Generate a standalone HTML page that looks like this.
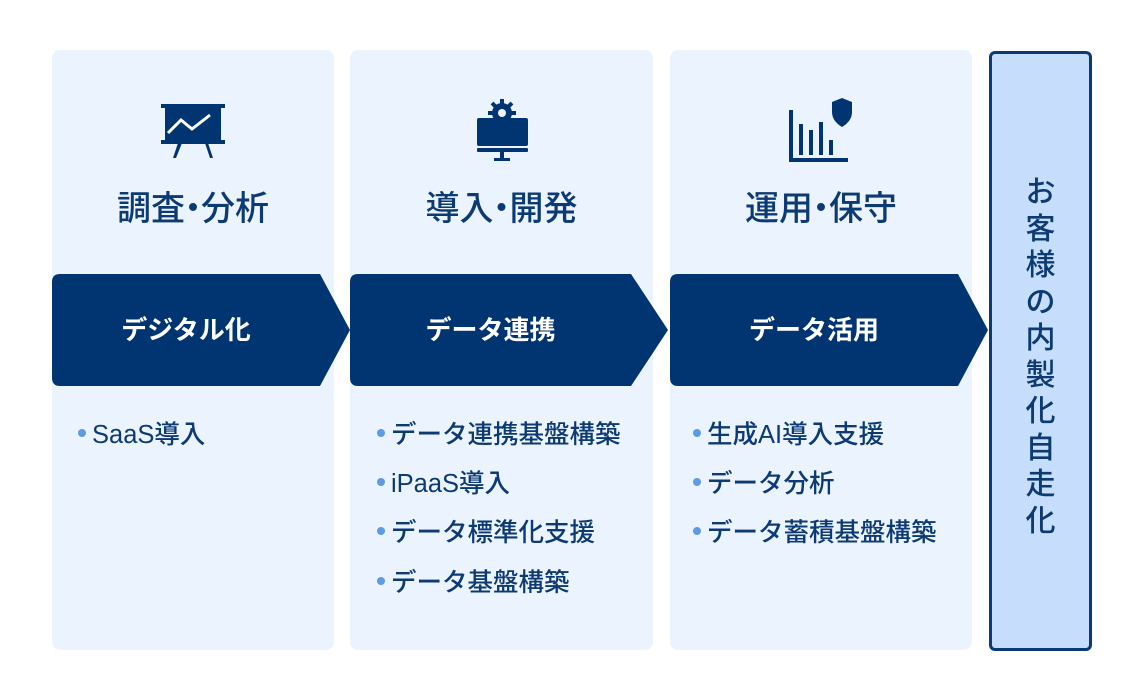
<!DOCTYPE html>
<html><head><meta charset="utf-8"><style>
body{margin:0;width:1146px;height:700px;background:#fff;position:relative;overflow:hidden;font-family:"Liberation Sans","Noto Sans CJK JP",sans-serif;}
.card{position:absolute;top:50px;height:600px;background:#eaf3fe;border-radius:8px;}
.title{position:absolute;top:186px;font-size:34px;font-weight:500;color:#0c3a73;text-align:center;line-height:46px;white-space:nowrap}
.title span{letter-spacing:-9px;margin-left:-9px}
.ban{position:absolute;top:330px;font-size:26px;font-weight:700;color:#fff;text-align:center;line-height:1;transform:translateY(-50%)}
.li{position:absolute;font-size:25.5px;font-weight:500;color:#0c3a73;line-height:30px;white-space:nowrap}
.li::before{content:"";display:inline-block;width:8px;height:8px;border-radius:50%;background:#5d9be3;margin-right:6px;vertical-align:middle;position:relative;top:-3px}
.right{position:absolute;left:989px;top:51px;width:97px;height:594px;background:#c6defb;border:3px solid #0c3a73;border-radius:6px}
.vt{position:absolute;left:0;width:97px;top:121px;text-align:center;font-size:30px;color:#0c3a73;line-height:36.5px;font-weight:500}
</style></head><body>
<div class="card" style="left:52px;width:282px"></div>
<div class="card" style="left:350px;width:303px"></div>
<div class="card" style="left:670px;width:302px"></div>
<svg style="position:absolute;left:0;top:0" width="1146" height="700">
<g fill="#003572">
<path d="M52 282 Q52 274 60 274 L320 274 L350 330 L320 386 L60 386 Q52 386 52 378Z"/>
<path d="M350 282 Q350 274 358 274 L631 274 L668 330 L631 386 L358 386 Q350 386 350 378Z"/>
<path d="M670 282 Q670 274 678 274 L958 274 L988 330 L958 386 L678 386 Q670 386 670 378Z"/>
<rect x="161" y="104" width="64" height="4"/>
<rect x="165" y="104" width="56" height="38"/>
<rect x="161" y="140" width="64" height="4"/>
<path d="M178 143 L173 158 L176 158 L182 143Z M205 143 L210 158 L213 158 L208 143Z"/>
<rect x="477" y="118" width="51" height="28" rx="2"/>
<rect x="477" y="148" width="51" height="4" rx="1"/>
<rect x="500" y="152" width="4" height="7"/>
<rect x="494" y="158" width="16" height="3"/>
<circle cx="502" cy="113" r="10"/>
<g stroke="#003572" stroke-width="4"><line x1="502" y1="99" x2="502" y2="127"/><line x1="488" y1="113" x2="516" y2="113"/><line x1="492" y1="103" x2="512" y2="123"/><line x1="512" y1="103" x2="492" y2="123"/></g>
<rect x="789" y="110" width="4" height="51"/>
<rect x="789" y="158" width="59" height="4"/>
<rect x="799" y="124" width="4" height="31"/>
<rect x="809" y="130" width="4" height="25"/>
<rect x="819" y="122" width="4" height="33"/>
<rect x="829" y="140" width="4" height="15"/>
<path d="M842 98 L852 102 L852 112 Q852 121 842 127 Q832 121 832 112 L832 102Z"/>
</g>
<circle cx="502" cy="113" r="4" fill="#eaf3fe"/>
<path d="M168 133 L181 120 L192 129 L210 115" stroke="#fff" stroke-width="3" fill="none"/>
</svg>
<div class="title" style="left:52px;width:282px">調査<span>・</span>分析</div>
<div class="title" style="left:350px;width:303px">導入<span>・</span>開発</div>
<div class="title" style="left:670px;width:302px">運用<span>・</span>保守</div>
<div class="ban" style="left:52px;width:268px">デジタル化</div>
<div class="ban" style="left:350px;width:281px">データ連携</div>
<div class="ban" style="left:670px;width:288px">データ活用</div>
<div class="li" style="left:78px;top:420px">SaaS導入</div>
<div class="li" style="left:377px;top:420px">データ連携基盤構築</div>
<div class="li" style="left:377px;top:469px">iPaaS導入</div>
<div class="li" style="left:377px;top:518px">データ標準化支援</div>
<div class="li" style="left:377px;top:568px">データ基盤構築</div>
<div class="li" style="left:693px;top:420px">生成AI導入支援</div>
<div class="li" style="left:693px;top:469px">データ分析</div>
<div class="li" style="left:693px;top:518px">データ蓄積基盤構築</div>
<div class="right"><div class="vt">お<br>客<br>様<br>の<br>内<br>製<br>化<br>自<br>走<br>化</div></div>
</body></html>
